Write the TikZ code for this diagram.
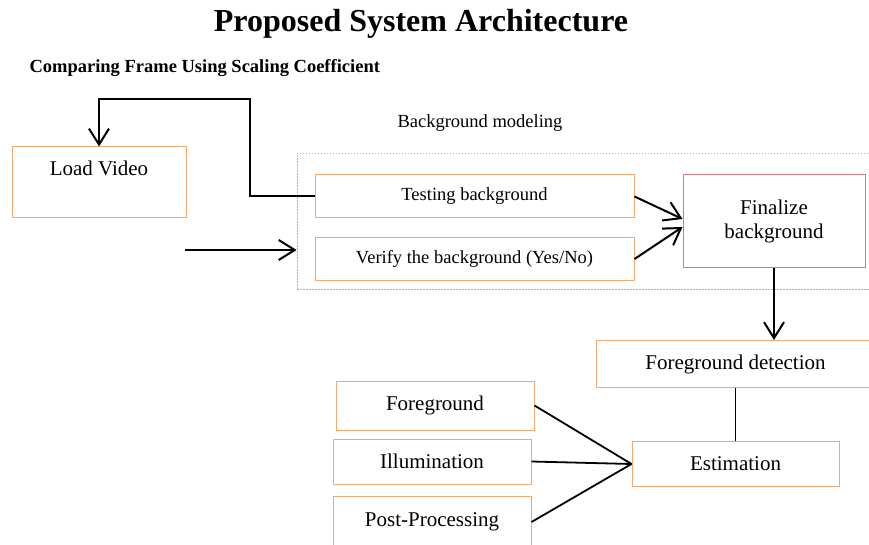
\documentclass[tikz,border=0pt]{standalone}
\usepackage{fontspec}
\setmainfont{Liberation Serif}
\usepackage{xcolor}
\usetikzlibrary{calc}
\usetikzlibrary{positioning}
\usetikzlibrary{arrows.meta}
\definecolor{boxorange}{RGB}{244,170,110}
\definecolor{boxred}{RGB}{214,120,126}

\begin{document}
\begin{tikzpicture}[x=1pt,y=1pt]
		\tikzstyle{block} = [draw=boxorange, line width=1pt, inner sep=0pt, align=center, font=\fontsize{21}{23.5}\selectfont]
		\tikzstyle{smallblock} = [block, font=\fontsize{18.5}{22}\selectfont]
		\tikzstyle{flow} = [draw, line width=2pt, -{Straight Barb[length=16pt,width=20pt]}]
		\tikzstyle{link} = [draw, line width=1.8pt]

		\useasboundingbox (0,0) rectangle (869,544);

		\node[font=\bfseries\fontsize{32}{36}\selectfont] (Title) at (421,520) {Proposed System Architecture};
		\node[anchor=west, font=\bfseries\fontsize{18.5}{22}\selectfont] (Subtitle) at (26,476) {Comparing Frame Using Scaling Coefficient};

		\node[block, minimum width=174pt, text height=29pt, text depth=42pt] (LoadVideo) at (99,361.5) {Load Video};
		\node[draw=boxorange!80!orange, dash pattern=on 1.5pt off 1.5pt, line width=0.8pt, minimum width=582pt, minimum height=136pt] (Modeling) at (588,323) {};
		\node[font=\fontsize{18.5}{22}\selectfont] (ModelingLabel) at (480,421) {Background modeling};
		\node[smallblock, minimum width=319pt, minimum height=43pt] (Testing) at (474.5,347.5) {Testing background};
		\node[smallblock, minimum width=319pt, minimum height=42pt, below=19pt of Testing] (Verify) {Verify the background (Yes/No)};
		\node[block, draw=boxred, minimum width=182pt, minimum height=93pt] (Finalize) at (774,322.5) {Finalize\\background};
		\node[block, minimum width=279pt, minimum height=47pt] (FgDetect) at (735.5,180) {Foreground detection};
		\node[block, minimum width=207pt, minimum height=45pt, below=53pt of FgDetect] (Estimation) {Estimation};
		\node[block, minimum width=198pt, minimum height=49pt] (Foreground) at (435,138.5) {Foreground};
		\node[block, minimum width=198pt, minimum height=45pt] (Illumination) at (432,82.5) {Illumination};
		\node[block, minimum width=198pt, minimum height=52pt] (PostProc) at (432,22) {Post-Processing};
		\coordinate (FeedIn) at (185,294);

		\draw[flow] (Testing.west) -- ++(-65,0) -- ++(0,97.5) -| (LoadVideo.north);
		\draw[flow] (FeedIn) -- (FeedIn -| Modeling.west);
		\draw[flow] (Testing.east) -- ($(Finalize.west)+(0,2.5)$);
		\draw[flow] (Verify.east) -- ($(Finalize.west)+(0,-5.5)$);
		\draw[flow] (Finalize.south) -- (Finalize.south |- FgDetect.north);
		\draw[link] (Estimation.north) -- (Estimation.north |- FgDetect.south);
		\draw[link] (Foreground.east) -- (Estimation.west);
		\draw[link] (Illumination.east) -- (Estimation.west);
		\draw[link] (PostProc.east) -- (Estimation.west);

	\end{tikzpicture}
\end{document}
